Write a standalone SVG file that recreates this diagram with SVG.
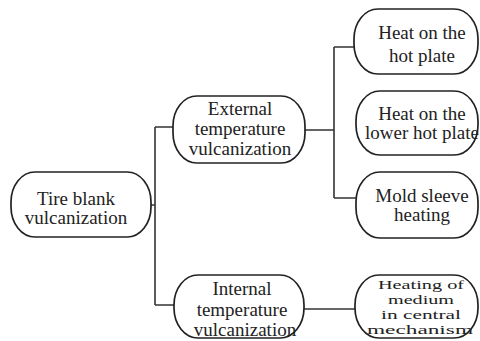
<svg xmlns="http://www.w3.org/2000/svg" width="480" height="341" viewBox="0 0 480 341">
<style>
.n{fill:#fff;stroke:#222;stroke-width:1.7}
.t{font-family:"Liberation Serif","Times New Roman",serif;font-size:19px;fill:#222;text-anchor:middle}
.s{font-size:13.5px}
.c{fill:none;stroke:#333;stroke-width:1.6}
</style>
<rect width="480" height="341" fill="#fff"/>
<g id="connectors">
<path class="c" d="M151 205H155M155 127V305M155 127H173M155 305H174"/>
<path class="c" d="M305 130H334M334 47V198M334 47H354M334 198H356"/>
<path class="c" d="M304 309H355"/>
</g>
<g id="tire">
<rect class="n" x="11" y="172" width="140" height="65" rx="24" ry="30"/>
<text class="t" x="76" y="205">Tire blank</text>
<text class="t" x="76" y="224">vulcanization</text>
</g>
<g id="external">
<rect class="n" x="173" y="96" width="132" height="67" rx="24" ry="30"/>
<text class="t" x="240" y="115">External</text>
<text class="t" x="240" y="135">temperature</text>
<text class="t" x="240" y="155">vulcanization</text>
</g>
<g id="internal">
<rect class="n" x="174" y="275" width="130" height="63" rx="24" ry="30"/>
<text class="t" x="242" y="295">Internal</text>
<text class="t" x="242" y="316">temperature</text>
<text class="t" x="245" y="336">vulcanization</text>
</g>
<g id="hotplate">
<rect class="n" x="354" y="9" width="124" height="65" rx="24" ry="30"/>
<text class="t" x="422" y="39">Heat on the</text>
<text class="t" x="422" y="62">hot plate</text>
</g>
<g id="lowerplate">
<rect class="n" x="356" y="91" width="122" height="64" rx="24" ry="30"/>
<text class="t" x="422" y="120">Heat on the</text>
<text class="t" x="422" y="139">lower hot plate</text>
</g>
<g id="moldsleeve">
<rect class="n" x="356" y="172" width="122" height="66" rx="24" ry="30"/>
<text class="t" x="422" y="202">Mold sleeve</text>
<text class="t" x="422" y="221">heating</text>
</g>
<g id="medium">
<rect class="n" x="355" y="275" width="123" height="63" rx="24" ry="30"/>
<text class="t s" x="421" y="289" textLength="86" lengthAdjust="spacingAndGlyphs">Heating of</text>
<text class="t s" x="421" y="304" textLength="66" lengthAdjust="spacingAndGlyphs">medium</text>
<text class="t s" x="421" y="319" textLength="80" lengthAdjust="spacingAndGlyphs">in central</text>
<text class="t s" x="420" y="334" textLength="106" lengthAdjust="spacingAndGlyphs">mechanism</text>
</g>
</svg>
